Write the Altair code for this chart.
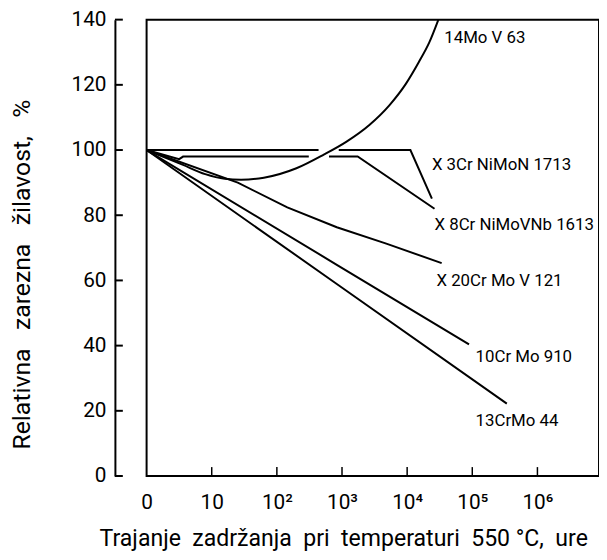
import altair as alt
import pandas as pd

# x is measured in decades of hours: 0 -> "0", 1 -> 10, 2 -> 10^2, ...
x_tick_values = [0, 1, 2, 3, 4, 5, 6]
x_tick_labels = ["0", "10", "10²", "10³", "10⁴", "10⁵", "10⁶"]
y_tick_values = [0, 20, 40, 60, 80, 100, 120, 140]

# 14MoV63 (curved)
mo_x = [0, 0.55, 0.9, 1.2, 1.45, 1.8, 2.3, 2.72, 3.07, 3.42, 3.73, 3.98, 4.18, 4.34, 4.48]
mo_y = [100, 95.5, 92.6, 91.2, 90.9, 91.5, 94.4, 98.6, 102.6, 107.7, 113.8, 120.3, 127, 133, 140]

# X3CrNiMoN1713 (broken where the curve crosses)
x3_x_a = [0, 2.64]
x3_y_a = [100, 100]
x3_x_b = [2.95, 4.05, 4.38]
x3_y_b = [100, 100, 85.1]

# X8CrNiMoVNb1613
x8_x_a = [0, 0.5, 0.56, 2.49]
x8_y_a = [100, 97.2, 98, 98]
x8_x_b = [2.8, 3.24, 4.42]
x8_y_b = [98, 98, 82]

# X20CrMoV121
x20_x = [0, 1.4, 2.16, 2.92, 3.68, 4.53]
x20_y = [100, 90, 82.4, 76.3, 71.3, 65.3]

# 10CrMo910
c910_x = [0, 2.92, 4.95]
c910_y = [100, 64.8, 40.4]

# 13CrMo44
c44_x = [0, 2.92, 5.53]
c44_y = [100, 58.9, 22.2]

label_texts = ["14Mo V 63", "X 3Cr NiMoN 1713", "X 8Cr NiMoVNb 1613",
               "X 20Cr Mo V 121", "10Cr Mo 910", "13CrMo 44"]
label_x = [4.57, 4.38, 4.42, 4.45, 5.05, 5.05]
label_y = [134.2, 95.4, 77.1, 59.8, 36.6, 16.8]

W, H = 457, 461
FONT = "Roboto"
NB = "\u00a0"

def rows(key, xs, ys):
    return [{"key": key, "i": i, "x": a, "y": b} for i, (a, b) in enumerate(zip(xs, ys))]

lin_rows = (rows("x3a", x3_x_a, x3_y_a) + rows("x3b", x3_x_b, x3_y_b)
            + rows("x8a", x8_x_a, x8_y_a) + rows("x8b", x8_x_b, x8_y_b)
            + rows("x20", x20_x, x20_y) + rows("c910", c910_x, c910_y)
            + rows("c44", c44_x, c44_y))
df_lin = pd.DataFrame(lin_rows)
df_curve = pd.DataFrame(rows("mo", mo_x, mo_y))
df_lab = pd.DataFrame({"x": label_x, "y": label_y, "t": label_texts})
df_yt = pd.DataFrame({"v": y_tick_values})
df_xt = pd.DataFrame({"v": x_tick_values[1:]})

xscale = alt.Scale(domain=[0, W / 65.8], nice=False, zero=False)
yscale = alt.Scale(domain=[0, 140], nice=False)

label_expr = "[" + ",".join("'" + s + "'" for s in x_tick_labels) + "][datum.value]"

x_title = (NB + " ").join(["Trajanje", "zadržanja", "pri", "temperaturi", "550" + NB + "°C,", "ure"])
y_title = (NB + NB + " ").join(["Relativna", "zarezna", "žilavost,", "%"])

x_axis = alt.Axis(values=x_tick_values, labelExpr=label_expr, ticks=False, tickSize=0,
                  domain=False, grid=False, labelPadding=16, labelFontSize=21,
                  labelFlush=False, labelOverlap=False,
                  title=x_title,
                  titleFontSize=23.3, titleAlign="left", titleAnchor="start",
                  titleBaseline="alphabetic", titleX=-48, titleY=70)
y_axis = alt.Axis(values=y_tick_values, ticks=False, tickSize=0, domain=True,
                  domainWidth=2, domainColor="black", offset=32, grid=False,
                  labelPadding=9, labelFontSize=21,
                  title=y_title, titleFontSize=25,
                  titleAngle=270, titleBaseline="alphabetic", titleAlign="center",
                  titleX=-86, titleY=257)

lines = alt.Chart(df_lin).mark_line(color="black", strokeWidth=2).encode(
    x=alt.X("x:Q", scale=xscale, axis=x_axis),
    y=alt.Y("y:Q", scale=yscale, axis=y_axis),
    detail="key:N",
    order="i:Q",
)
curve = alt.Chart(df_curve).mark_line(color="black", strokeWidth=2, interpolate="monotone").encode(
    x=alt.X("x:Q", scale=xscale),
    y=alt.Y("y:Q", scale=yscale),
    order="i:Q",
)
labels = alt.Chart(df_lab).mark_text(align="left", baseline="middle", font=FONT,
                                     fontSize=17, color="black").encode(
    x=alt.X("x:Q", scale=xscale),
    y=alt.Y("y:Q", scale=yscale),
    text="t:N",
)
yticks = alt.Chart(df_yt).mark_rule(color="black", strokeWidth=2).encode(
    x=alt.value(-32), x2=alt.value(-24),
    y=alt.Y("v:Q", scale=yscale),
)
xticks = alt.Chart(df_xt).mark_rule(color="black", strokeWidth=1.5).encode(
    x=alt.X("v:Q", scale=xscale),
    y=alt.value(H - 9), y2=alt.value(H),
)

chart = alt.layer(lines, curve, labels, yticks, xticks).properties(
    width=W, height=H,
    padding={"left": 140, "top": 9, "right": 0, "bottom": 74},
    autosize=alt.AutoSizeParams(type="none"),
).configure_view(
    stroke="black", strokeWidth=2
).configure_axis(
    labelFont=FONT, titleFont=FONT, labelColor="black", titleColor="black",
    titleFontWeight="normal", domainColor="black"
)

chart.save("out.html", embed_options={"renderer": "svg", "actions": False})
